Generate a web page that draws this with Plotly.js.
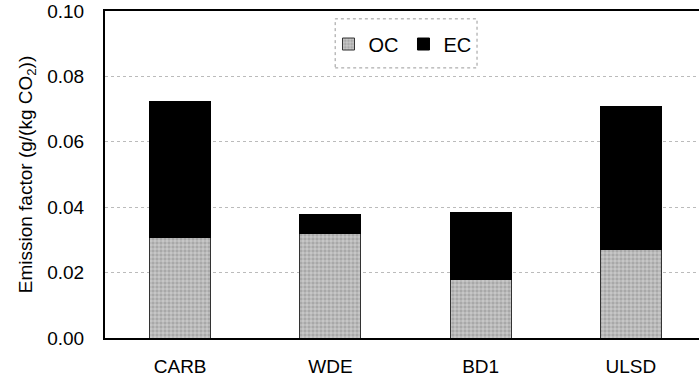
<!DOCTYPE html>
<html>
<head>
<meta charset="utf-8">
<script src="https://cdn.plot.ly/plotly-3.0.1.min.js"></script>
<style>
html,body{margin:0;padding:0;overflow:hidden;background:#fff;width:699px;height:382px;}
#chart{width:710px;height:382px;}
</style>
</head>
<body>
<div id="chart"></div>
<script>
const categories = ["CARB", "WDE", "BD1", "ULSD"];
const ocValues = [0.0306, 0.0321, 0.0180, 0.0272];
const ecValues = [0.0416, 0.0058, 0.0205, 0.0437];
const yTicks = [0, 0.02, 0.04, 0.06, 0.08, 0.10];
const yTickLabels = ["0.00", "0.02", "0.04", "0.06", "0.08", "0.10"];

const font = "Liberation Sans, Arial, sans-serif";

const traces = [
  {
    type: "bar", name: "OC", x: categories, y: ocValues,
    marker: {
      color: "#b0b0b0",
      line: {color: "#333", width: 1},
      pattern: {shape: "+", fgcolor: "#e8e8e8", bgcolor: "#a8a8a8", size: 4, solidity: 0.25}
    }
  },
  {
    type: "bar", name: "EC", x: categories, y: ecValues,
    marker: {color: "#000", line: {color: "#000", width: 1}}
  }
];

const layout = {
  width: 710, height: 382,
  margin: {l: 105, r: 4, t: 11, b: 44},
  barmode: "stack",
  bargap: 0.594,
  paper_bgcolor: "#fff", plot_bgcolor: "#fff",
  font: {family: font, color: "#000", size: 19},
  showlegend: true,
  legend: {
    orientation: "h", x: 0.495, xanchor: "center", y: 0.899, yanchor: "middle",
    font: {family: font, size: 20, color: "#000"},
    bgcolor: "rgba(0,0,0,0)", itemwidth: 30, traceorder: "normal"
  },
  xaxis: {
    type: "category", range: [-0.5, 3.5],
    showline: true, linecolor: "#000", linewidth: 2, mirror: true,
    ticks: "", showgrid: false, ticklabelstandoff: 10,
    tickfont: {family: font, size: 19, color: "#000"}
  },
  yaxis: {
    range: [0, 0.1], tickvals: yTicks, ticktext: yTickLabels,
    showline: true, linecolor: "#000", linewidth: 2, mirror: true,
    ticks: "", ticklabelstandoff: 15,
    showgrid: true, gridcolor: "#bbb", gridwidth: 1, griddash: "dot",
    zeroline: false,
    tickfont: {family: font, size: 19, color: "#000"},
    title: {text: "Emission factor (g/(kg CO<sub>2</sub>))", font: {family: font, size: 19, color: "#000"}, standoff: 10}
  },
  shapes: [
    {type: "rect", xref: "paper", yref: "paper", x0: 0.383, x1: 0.619, y0: 0.826, y1: 0.976,
     line: {color: "#999", width: 1, dash: "dot"}, fillcolor: "rgba(0,0,0,0)"}
  ]
};

Plotly.newPlot("chart", traces, layout, {displayModeBar: false, staticPlot: true});
</script>
</body>
</html>
